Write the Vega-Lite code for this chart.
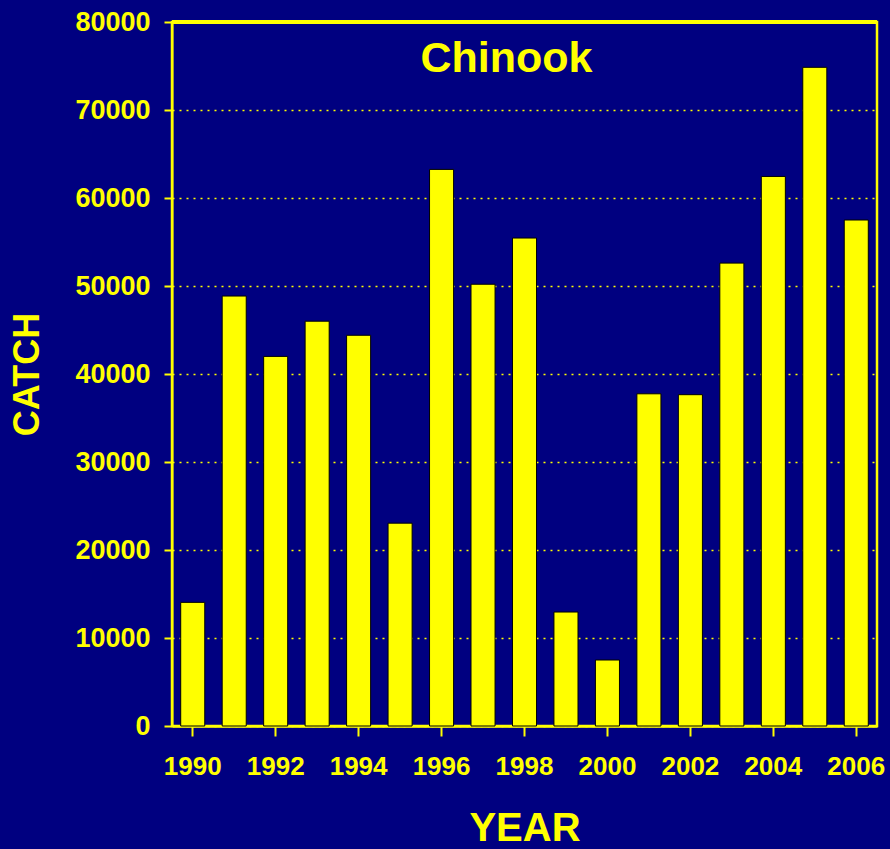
{
  "$schema": "https://vega.github.io/schema/vega-lite/v6.json",
  "autosize": {"type": "none"},
  "width": 705,
  "height": 704,
  "padding": {"left": 172, "top": 22, "right": 13, "bottom": 123},
  "background": "#000080",
  "title": {
    "text": "Chinook",
    "font": "Liberation Sans",
    "fontSize": 43,
    "fontWeight": "bold",
    "color": "#FFFF00",
    "anchor": "middle",
    "frame": "group",
    "baseline": "alphabetic",
    "offset": -107,
    "dx": -18
  },
  "config": {
    "view": {"stroke": "#FFFF00", "strokeWidth": 2.5},
    "font": "Liberation Sans"
  },
  "layer": [
    {
      "data": {
        "values": [
          {"year": 1990, "catch": 14050},
          {"year": 1991, "catch": 48860},
          {"year": 1992, "catch": 42000},
          {"year": 1993, "catch": 46000},
          {"year": 1994, "catch": 44400},
          {"year": 1995, "catch": 23050},
          {"year": 1996, "catch": 63250},
          {"year": 1997, "catch": 50200},
          {"year": 1998, "catch": 55450},
          {"year": 1999, "catch": 12950},
          {"year": 2000, "catch": 7500},
          {"year": 2001, "catch": 37750},
          {"year": 2002, "catch": 37650},
          {"year": 2003, "catch": 52600},
          {"year": 2004, "catch": 62450},
          {"year": 2005, "catch": 74850},
          {"year": 2006, "catch": 57500}
        ]
      },
      "mark": {"type": "bar", "color": "#FFFF00", "stroke": "#000000", "strokeWidth": 1},
      "encoding": {
        "x": {
          "field": "year",
          "type": "ordinal",
          "scale": {"paddingInner": 0.42, "paddingOuter": 0.21},
          "axis": {
            "title": "YEAR",
            "titleFont": "Liberation Sans",
            "titleFontSize": 40,
            "titleFontWeight": "bold",
            "titleColor": "#FFFF00",
            "titlePadding": 29,
            "values": [1990, 1992, 1994, 1996, 1998, 2000, 2002, 2004, 2006],
            "labelAngle": 0,
            "labelFont": "Liberation Sans",
            "labelFontSize": 26,
            "labelFontWeight": "bold",
            "labelColor": "#FFFF00",
            "labelPadding": 17,
            "tickColor": "#FFFF00",
            "tickSize": 10,
            "tickWidth": 2,
            "domainColor": "#FFFF00",
            "domainWidth": 2.5
          }
        },
        "y": {
          "field": "catch",
          "type": "quantitative",
          "scale": {"domain": [0, 80000], "nice": false},
          "axis": {
            "title": "CATCH",
            "titleFont": "Liberation Sans",
            "titleFontSize": 36,
            "titleFontWeight": "bold",
            "titleColor": "#FFFF00",
            "titlePadding": 28,
            "values": [0, 10000, 20000, 30000, 40000, 50000, 60000, 70000, 80000],
            "format": "d",
            "labelFont": "Liberation Sans",
            "labelFontSize": 27,
            "labelFontWeight": "bold",
            "labelColor": "#FFFF00",
            "labelPadding": 14,
            "tickColor": "#FFFF00",
            "tickSize": 8,
            "tickWidth": 2,
            "domainColor": "#FFFF00",
            "domainWidth": 2,
            "grid": true,
            "gridColor": "#FFFF00",
            "gridDash": [2, 5],
            "gridWidth": 1.5
          }
        }
      }
    },
    {
      "data": {"values": [{"top": 80000}]},
      "mark": {"type": "rule", "color": "#FFFF00", "strokeWidth": 4},
      "encoding": {"y": {"field": "top", "type": "quantitative"}}
    }
  ]
}
